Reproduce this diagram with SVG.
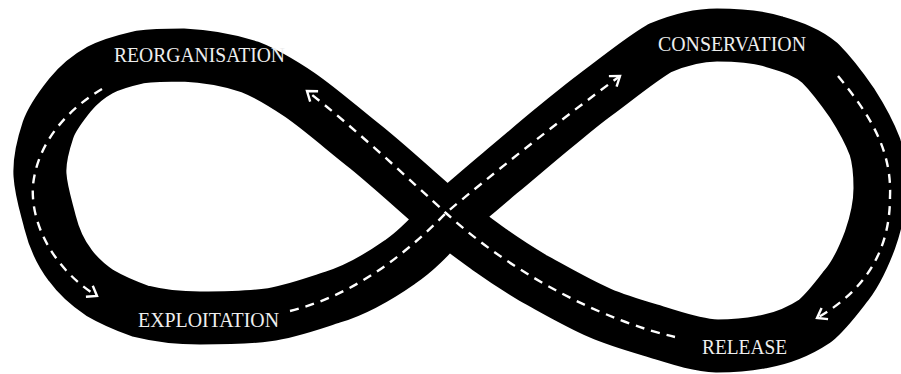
<svg xmlns="http://www.w3.org/2000/svg" width="901" height="374" viewBox="0 0 901 374">
  <style>
    .band { fill: none; stroke: #000; stroke-width: 53; stroke-linejoin: round; stroke-linecap: round; }
    .flow { fill: none; stroke: #fff; stroke-width: 2.4; stroke-dasharray: 9 7; }
    .lbl { font-family: "Liberation Serif", "Times New Roman", serif; font-size: 21px; fill: #eeeeee; }
  </style>
  <defs>
    <marker id="chev" markerUnits="userSpaceOnUse" markerWidth="16" markerHeight="16" refX="12" refY="8" orient="auto">
      <path d="M3,1.5 L12,8 L3,14.5" fill="none" stroke="#fff" stroke-width="2.4" stroke-linejoin="miter"/>
    </marker>
  </defs>
  <rect width="901" height="374" fill="#fff"/>

  <g id="band">
    <path class="band" d="M447,218 C465,203 482,188 500,173 C517,159 533,145 550,131 C565,119 580,106 595,95 C617,79 638,61 660,48 C679,40 697,35 717,35 C737,35 757,36 775,42 C792,47 807,52 820,63 C834,77 843,90 852,103 C861,117 869,131 875,147 C879,160 880,174 880,188 C880,205 876,223 870,240 C864,256 857,273 845,287 C835,300 826,312 815,321 C800,331 780,339 762,342 C747,345 732,346 717,346 C694,345 671,336 650,330 C633,325 616,320 600,313 C577,303 555,290 533,278 C518,269 504,260 490,250 C475,239 461,229 447,218 C433,233 418,250 400,262 C380,276 356,290 333,297 C311,304 290,312 267,315 C245,318 222,318 200,318 C178,318 160,316 140,311 C126,306 112,300 100,293 C88,285 78,276 70,265 C60,252 54,238 50,222 C46,206 41,191 40,175 C39,160 43,145 48,130 C52,118 62,105 70,95 C79,84 89,76 100,70 C113,63 127,60 140,57 C155,55 169,55 183,55 C206,56 229,60 250,67 C268,74 285,85 300,95 C323,111 345,131 367,148 C395,171 421,195 447,218 Z"/>
  </g>

  <g id="connectors">
    <path id="reorg-to-exploit" class="flow" marker-end="url(#chev)" d="M102,89 C70,108 38,140 33,185 C30,225 55,270 97,296"/>
    <path id="exploit-to-conserv" class="flow" marker-end="url(#chev)" d="M290,311 C350,296 400,260 447,212 C490,176 560,120 620,76"/>
    <path id="conserv-to-release" class="flow" marker-end="url(#chev)" d="M838,76 C870,115 892,150 890,197 C890,250 866,290 817,318"/>
    <path id="release-to-reorg" class="flow" marker-end="url(#chev)" d="M675,337 C610,322 520,280 447,214 C410,180 350,124 307,91"/>
  </g>

  <g id="reorganisation">
    <text class="lbl" x="114" y="62" textLength="171" lengthAdjust="spacingAndGlyphs">REORGANISATION</text>
  </g>
  <g id="conservation">
    <text class="lbl" x="658" y="50.5" textLength="148" lengthAdjust="spacingAndGlyphs">CONSERVATION</text>
  </g>
  <g id="exploitation">
    <text class="lbl" x="138" y="327" textLength="141" lengthAdjust="spacingAndGlyphs">EXPLOITATION</text>
  </g>
  <g id="release">
    <text class="lbl" x="702" y="354" textLength="85" lengthAdjust="spacingAndGlyphs">RELEASE</text>
  </g>
</svg>
